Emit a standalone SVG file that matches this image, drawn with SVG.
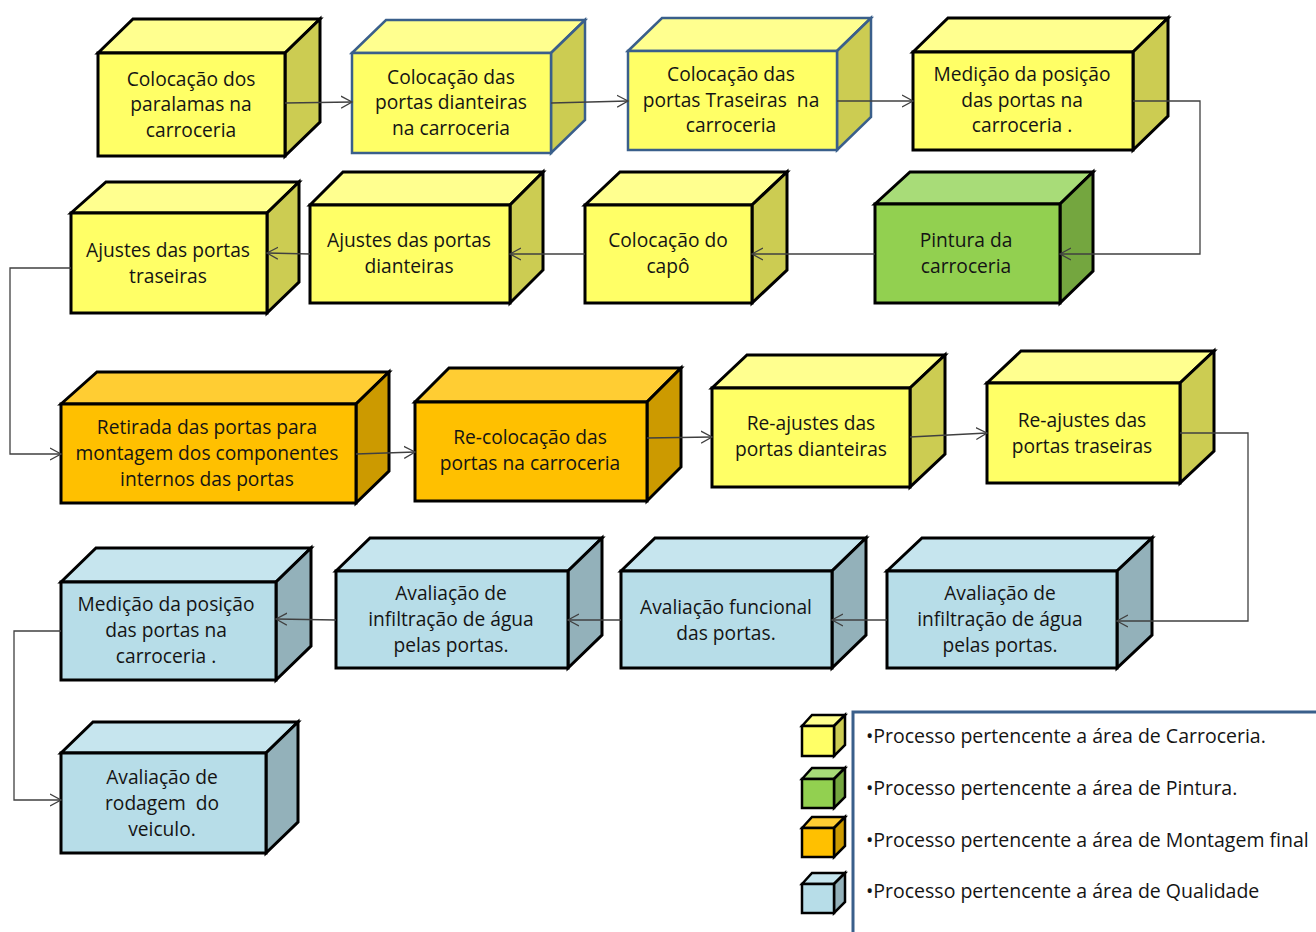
<svg xmlns="http://www.w3.org/2000/svg" width="1316" height="932" viewBox="0 0 1316 932">
<defs>
<marker id="arr" markerUnits="userSpaceOnUse" markerWidth="14" markerHeight="14" refX="11" refY="6" orient="auto" viewBox="0 0 14 12">
<path d="M0,0 L11,6 L0,12" fill="none" stroke="#404040" stroke-width="1.3"/>
</marker>
</defs>
<style>
.b polygon,.b rect{stroke:#000;stroke-width:3;stroke-linejoin:miter}
.bb polygon,.bb rect{stroke:#3a5f8b;stroke-width:2.5}
.y .f{fill:#FFFF66}.y .t{fill:#FFFF8F}.y .s{fill:#CCCC52}
.g .f{fill:#92D050}.g .t{fill:#A8DC78}.g .s{fill:#74A63F}
.o .f{fill:#FFC000}.o .t{fill:#FFCD33}.o .s{fill:#CC9A00}
.q .f{fill:#B7DDE8}.q .t{fill:#C6E5EE}.q .s{fill:#93B1BA}
text{font-family:"Open Sans",Lato,"Liberation Sans",sans-serif;font-size:19.2px;fill:#141414;text-anchor:middle;white-space:pre}
.leg text{text-anchor:start;font-size:19.5px}
.c path{fill:none;stroke:#404040;stroke-width:1.3;marker-end:url(#arr)}
.lc polygon,.lc rect{stroke:#000;stroke-width:2.5}
.lb{fill:none;stroke:#3a5f8b;stroke-width:3}
</style>

<g id="n1" class="b y">
<polygon class="t" points="98,53 133,19 320,19 285,53"/><polygon class="s" points="285,53 320,19 320,122 285,156"/><rect class="f" x="98" y="53" width="187" height="103"/>
<text x="191" y="86">Colocação dos</text><text x="191" y="111">paralamas na</text><text x="191" y="137">carroceria</text>
</g>
<g id="n2" class="b bb y">
<polygon class="t" points="352,53 386,20 585,20 551,53"/><polygon class="s" points="551,53 585,20 585,120 551,153"/><rect class="f" x="352" y="53" width="199" height="100"/>
<text x="451" y="84">Colocação das</text><text x="451" y="109">portas dianteiras</text><text x="451" y="135">na carroceria</text>
</g>
<g id="n3" class="b bb y">
<polygon class="t" points="628,51 662,18 871,18 837,51"/><polygon class="s" points="837,51 871,18 871,117 837,150"/><rect class="f" x="628" y="51" width="209" height="99"/>
<text x="731" y="81">Colocação das</text><text x="731" y="107">portas Traseiras  na</text><text x="731" y="132">carroceria</text>
</g>
<g id="n4" class="b y">
<polygon class="t" points="913,52 948,18 1168,18 1133,52"/><polygon class="s" points="1133,52 1168,18 1168,116 1133,150"/><rect class="f" x="913" y="52" width="220" height="98"/>
<text x="1022" y="81">Medição da posição</text><text x="1022" y="107">das portas na</text><text x="1022" y="132">carroceria .</text>
</g>
<g id="n5" class="b y">
<polygon class="t" points="71,213 106,182 299,182 267,213"/><polygon class="s" points="267,213 299,182 299,282 267,313"/><rect class="f" x="71" y="213" width="196" height="100"/>
<text x="168" y="257">Ajustes das portas</text><text x="168" y="283">traseiras</text>
</g>
<g id="n6" class="b y">
<polygon class="t" points="310,205 343,172 543,172 510,205"/><polygon class="s" points="510,205 543,172 543,270 510,303"/><rect class="f" x="310" y="205" width="200" height="98"/>
<text x="409" y="247">Ajustes das portas</text><text x="409" y="273">dianteiras</text>
</g>
<g id="n7" class="b y">
<polygon class="t" points="585,205 620,172 787,172 752,205"/><polygon class="s" points="752,205 787,172 787,270 752,303"/><rect class="f" x="585" y="205" width="167" height="98"/>
<text x="668" y="247">Colocação do</text><text x="668" y="273">capô</text>
</g>
<g id="n8" class="b g">
<polygon class="t" points="875,204 910,172 1093,172 1060,204"/><polygon class="s" points="1060,204 1093,172 1093,271 1060,303"/><rect class="f" x="875" y="204" width="185" height="99"/>
<text x="966" y="247">Pintura da</text><text x="966" y="273">carroceria</text>
</g>
<g id="n9" class="b o">
<polygon class="t" points="61,404 97,372 389,372 356,404"/><polygon class="s" points="356,404 389,372 389,471 356,503"/><rect class="f" x="61" y="404" width="295" height="99"/>
<text x="207" y="434">Retirada das portas para</text><text x="207" y="460">montagem dos componentes</text><text x="207" y="486">internos das portas</text>
</g>
<g id="n10" class="b o">
<polygon class="t" points="415,402 449,368 681,368 647,402"/><polygon class="s" points="647,402 681,368 681,467 647,501"/><rect class="f" x="415" y="402" width="232" height="99"/>
<text x="530" y="444">Re-colocação das</text><text x="530" y="470">portas na carroceria</text>
</g>
<g id="n11" class="b y">
<polygon class="t" points="712,388 747,355 945,355 910,388"/><polygon class="s" points="910,388 945,355 945,454 910,487"/><rect class="f" x="712" y="388" width="198" height="99"/>
<text x="811" y="430">Re-ajustes das</text><text x="811" y="456">portas dianteiras</text>
</g>
<g id="n12" class="b y">
<polygon class="t" points="987,383 1021,351 1214,351 1180,383"/><polygon class="s" points="1180,383 1214,351 1214,451 1180,483"/><rect class="f" x="987" y="383" width="193" height="100"/>
<text x="1082" y="427">Re-ajustes das</text><text x="1082" y="453">portas traseiras</text>
</g>
<g id="n13" class="b q">
<polygon class="t" points="887,571 922,538 1152,538 1117,571"/><polygon class="s" points="1117,571 1152,538 1152,635 1117,668"/><rect class="f" x="887" y="571" width="230" height="97"/>
<text x="1000" y="600">Avaliação de</text><text x="1000" y="626">infiltração de água</text><text x="1000" y="652">pelas portas.</text>
</g>
<g id="n14" class="b q">
<polygon class="t" points="621,571 655,538 866,538 832,571"/><polygon class="s" points="832,571 866,538 866,635 832,668"/><rect class="f" x="621" y="571" width="211" height="97"/>
<text x="726" y="614">Avaliação funcional</text><text x="726" y="640">das portas.</text>
</g>
<g id="n15" class="b q">
<polygon class="t" points="336,571 370,538 602,538 568,571"/><polygon class="s" points="568,571 602,538 602,635 568,668"/><rect class="f" x="336" y="571" width="232" height="97"/>
<text x="451" y="600">Avaliação de</text><text x="451" y="626">infiltração de água</text><text x="451" y="652">pelas portas.</text>
</g>
<g id="n16" class="b q">
<polygon class="t" points="61,582 96,548 311,548 276,582"/><polygon class="s" points="276,582 311,548 311,646 276,680"/><rect class="f" x="61" y="582" width="215" height="98"/>
<text x="166" y="611">Medição da posição</text><text x="166" y="637">das portas na</text><text x="166" y="663">carroceria .</text>
</g>
<g id="n17" class="b q">
<polygon class="t" points="61,753 93,722 298,722 266,753"/><polygon class="s" points="266,753 298,722 298,822 266,853"/><rect class="f" x="61" y="753" width="205" height="100"/>
<text x="162" y="784">Avaliação de</text><text x="162" y="810">rodagem  do</text><text x="162" y="836">veiculo.</text>
</g>

<g id="connectors" class="c">
<path d="M285,103 L352,102"/>
<path d="M551,103 L628,101"/>
<path d="M837,101 L913,101"/>
<path d="M1133,101 L1200,101 L1200,254 L1060,254"/>
<path d="M875,254 L752,254"/>
<path d="M585,254 L510,254"/>
<path d="M310,254 L267,253"/>
<path d="M71,268 L10,268 L10,454 L61,454"/>
<path d="M356,454 L415,452"/>
<path d="M647,438 L712,437"/>
<path d="M910,437 L987,433"/>
<path d="M1180,433 L1248,433 L1248,621 L1117,621"/>
<path d="M887,620 L832,620"/>
<path d="M621,620 L568,620"/>
<path d="M336,620 L276,619"/>
<path d="M61,631 L14,631 L14,800 L61,800"/>
</g>

<g id="legend" class="leg">
<path class="lb" d="M853,932 L853,712 L1316,712"/>
<g class="lc y"><polygon class="t" points="802,726 812,715 845,715 834,726"/><polygon class="s" points="834,726 845,715 845,745 834,756"/><rect class="f" x="802" y="726" width="32" height="30"/></g>
<g class="lc g"><polygon class="t" points="802,779 812,768 845,768 834,779"/><polygon class="s" points="834,779 845,768 845,797 834,808"/><rect class="f" x="802" y="779" width="32" height="29"/></g>
<g class="lc o"><polygon class="t" points="802,828 812,817 845,817 834,828"/><polygon class="s" points="834,828 845,817 845,846 834,857"/><rect class="f" x="802" y="828" width="32" height="29"/></g>
<g class="lc q"><polygon class="t" points="802,884 812,873 845,873 834,884"/><polygon class="s" points="834,884 845,873 845,902 834,913"/><rect class="f" x="802" y="884" width="32" height="29"/></g>
<text x="866" y="743">•Processo pertencente a área de Carroceria.</text>
<text x="866" y="795">•Processo pertencente a área de Pintura.</text>
<text x="866" y="847">•Processo pertencente a área de Montagem final</text>
<text x="866" y="898">•Processo pertencente a área de Qualidade</text>
</g>
</svg>
